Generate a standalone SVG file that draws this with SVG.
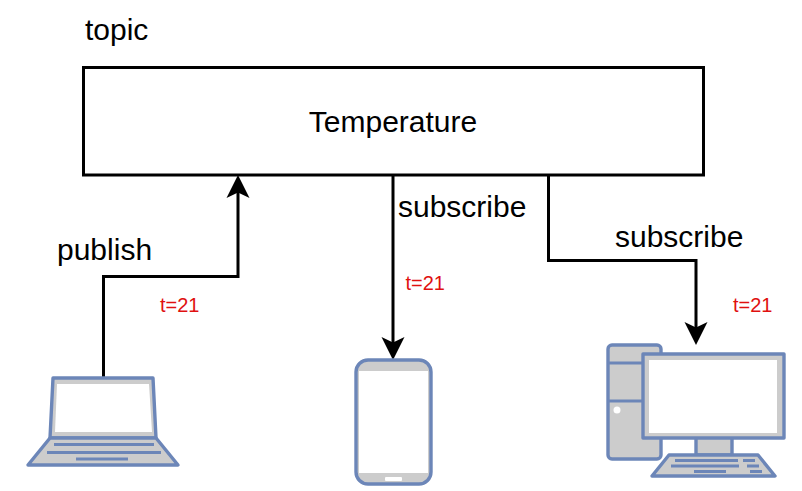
<svg xmlns="http://www.w3.org/2000/svg" width="802" height="491" viewBox="0 0 802 491">
<style>
text{font-family:"Liberation Sans",Arial,sans-serif;fill:#000}
.l{font-size:30px}
.t{font-size:20px;fill:#e01010}
.c{fill:none;stroke:#000;stroke-width:3}
.a{fill:#000;stroke:none}
.s{stroke:#6c86b8;stroke-width:3.4;stroke-linejoin:round}
.g{fill:#cccccc}
.w{fill:#fff;stroke:none}
.b{fill:none;stroke:#6c86b8;stroke-width:3}
</style>
<rect width="802" height="491" fill="#fff"/>
<defs>
<path id="h" class="a" d="M0 0 L11.500 23 L0 17.500 L-11.500 23 Z"/>
</defs>
<g id="connectors">
<path class="c" d="M103.500 378V276.500H238V190"/>
<use href="#h" x="238" y="175"/>
<path class="c" d="M393 175V345"/>
<use href="#h" transform="translate(393 360) rotate(180)"/>
<path class="c" d="M548.500 175V260.500H696V330"/>
<use href="#h" transform="translate(696 345) rotate(180)"/>
</g>
<g id="topic-box">
<rect x="83.500" y="67.500" width="620" height="107.500" fill="#fff" stroke="#000" stroke-width="3"/>
<text class="l" x="393" y="132" text-anchor="middle">Temperature</text>
</g>
<g id="labels">
<text class="l" x="85" y="40">topic</text>
<text class="l" x="57" y="260">publish</text>
<text class="l" x="398" y="217">subscribe</text>
<text class="l" x="615" y="247">subscribe</text>
<text class="t" x="160" y="312">t=21</text>
<text class="t" x="405.500" y="290">t=21</text>
<text class="t" x="733" y="312">t=21</text>
</g>
<g id="laptop">
<path class="s g" d="M53 378H153L156 438H50Z"/>
<path class="w" d="M57 384H149L152 432H55Z"/>
<path class="s g" d="M50 438H156L178 465H28Z"/>
<path class="b" d="M54 444.500H154M47 452.500H161M76 459H128"/>
</g>
<g id="phone">
<rect class="s g" x="356" y="360" width="75" height="124" rx="12"/>
<rect class="w" x="359" y="371" width="69" height="102"/>
<rect class="w" x="385" y="477" width="17" height="4" rx="1"/>
</g>
<g id="desktop">
<rect class="s g" x="608" y="345" width="53" height="114" rx="4"/>
<path class="b" d="M608 363H645M608 401H645"/>
<circle class="w" cx="617" cy="410" r="3.500"/>
<rect class="s g" x="696" y="437" width="36" height="18"/>
<rect class="s g" x="643" y="354" width="141" height="84"/>
<rect class="w" x="649" y="360" width="128" height="73"/>
<path class="s g" d="M669 455H758L775 476H652Z"/>
<path class="b" d="M675 460.500H738M743 460.500H755M671 466H739M747 466H759M694 471.500H726M750 471.500H762"/>
</g>
</svg>
